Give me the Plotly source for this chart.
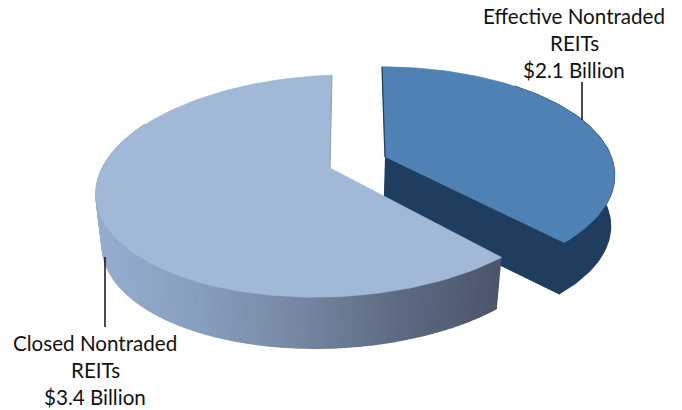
import numpy as np
import plotly.graph_objects as go

categories = ["Effective Nontraded REITs", "Closed Nontraded REITs"]
values = [2.1, 3.4]
label_lines = [["Effective Nontraded", "REITs", "$2.1 Billion"],
               ["Closed Nontraded", "REITs", "$3.4 Billion"]]

TOP_DARK = "#4f81b5"
TOP_LIGHT = "#a2b8d7"
SIDE_DARK = "#1f3d5e"
SIDE_STOPS_X = [95, 200, 300, 400, 500]
SIDE_STOPS_RGB = [(152, 174, 208), (136, 158, 190), (118, 135, 162), (93, 107, 130), (76, 86, 106)]

sweep = [v / sum(values) * 360 for v in values]
end = sweep[0]


def rim(theta, g):
    t = np.radians(theta)
    s = 1 / (1 + g["p"] * np.cos(t))
    x = g["cx"] + g["R"] * np.sin(t) * s
    y = g["cy"] - g["B"] * np.cos(t) * s + g["shy"] * np.sin(t) * s
    return x, y


def lower(x, y):
    return x - (x - 330) * 0.027, y + 51


light = dict(ax=330, ay=168, cx=332, cy=168, R=233, B=108, p=0.162, shy=-8)
dark = dict(ax=385, ay=157, cx=382, cy=159, R=230, B=106, p=0.15, shy=0)
dark_low = dict(cx=374, cy=210, R=234, B=106, p=0.15, shy=0)
trim_light, trim_dark = 3, -2.5

fig = go.Figure()


def poly(xs, ys, color, line=None, lw=0.6):
    fig.add_trace(go.Scatter(x=list(xs), y=list(ys), mode="lines", fill="toself",
                             fillcolor=color, line=dict(color=line or color, width=lw),
                             hoverinfo="skip", showlegend=False))


def edge(xs, ys, color, width):
    fig.add_trace(go.Scatter(x=xs, y=ys, mode="lines", line=dict(color=color, width=width),
                             hoverinfo="skip", showlegend=False))


# dark slice: side and cut face
th_d = np.linspace(40, end + trim_dark, 70)
xd, yd = rim(th_d, dark)
xb, yb = rim(th_d, dark_low)
ax_b, ay_b = lower(dark["ax"], dark["ay"])
poly(np.r_[xd, xb[::-1]], np.r_[yd, yb[::-1]], SIDE_DARK, lw=1.2)
poly(np.r_[dark["ax"], xd[-1], xb[-1], ax_b], np.r_[dark["ay"], yd[-1], yb[-1], ay_b], SIDE_DARK, lw=1.2)
# dark top
th = np.linspace(0, end + trim_dark, 90)
x, y = rim(th, dark)
poly(np.r_[dark["ax"], x], np.r_[dark["ay"], y], TOP_DARK)
x0, y0 = rim(np.array([0.0]), dark)
edge([dark["ax"], x0[0]], [dark["ay"], y0[0]], SIDE_DARK, 1.2)

# light slice: side as gradient strips
th_l = np.linspace(end + trim_light, 300, 150)
xl, yl = rim(th_l, light)
xlb, ylb = lower(xl, yl)
for i in range(len(th_l) - 1):
    mid = (xl[i] + xl[i + 1]) / 2
    rgb = [np.interp(mid, SIDE_STOPS_X, [c[k] for c in SIDE_STOPS_RGB]) for k in range(3)]
    col = "rgb(%d,%d,%d)" % tuple(rgb)
    poly([xl[i], xl[i + 1], xlb[i + 1], xlb[i]], [yl[i], yl[i + 1], ylb[i + 1], ylb[i]], col, lw=1.5)
# light top
th = np.linspace(end + trim_light, 360, 150)
x, y = rim(th, light)
poly(np.r_[light["ax"], x], np.r_[light["ay"], y], TOP_LIGHT)
x1, y1 = rim(np.array([360.0]), light)
edge([light["ax"], x1[0]], [light["ay"], y1[0]], "#8b9bb5", 1)

# leader lines
for lx, ly in [([582, 582], [82, 120]), ([105, 105], [257, 327])]:
    edge(lx, ly, "#111111", 1.5)

for lines, cx, ys in [(label_lines[0], 574, [16, 43, 70]), (label_lines[1], 95, [343, 370, 397])]:
    for t, yy in zip(lines, ys):
        fig.add_annotation(x=cx, y=yy, text=t, showarrow=False, xanchor="center", yanchor="middle",
                           font=dict(family="Lato", size=20.6, color="#111111"))

fig.update_layout(width=682, height=410, margin=dict(l=0, r=0, t=0, b=0),
                  paper_bgcolor="white", plot_bgcolor="white", showlegend=False,
                  xaxis=dict(range=[0, 682], visible=False),
                  yaxis=dict(range=[410, 0], visible=False))
fig.write_html("out.html", config=dict(displayModeBar=False),
               post_script="document.body.style.margin='0';document.documentElement.style.overflow='hidden';")
